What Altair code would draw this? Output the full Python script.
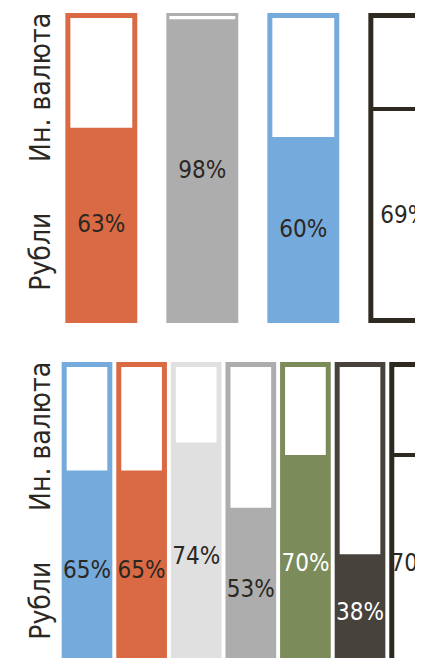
import altair as alt
import pandas as pd

# ---------------- data ----------------
top_values = [63, 98, 60, 69]                     # share in roubles, %
top_colors = ["#DA6A44", "#ADADAD", "#75AADD", "#2F2A21"]
top_outline = [False, False, False, True]
top_text_colors = ["#2B2723", "#2B2723", "#2B2723", "#2B2723"]

bot_values = [65, 65, 74, 53, 70, 38, 70]
bot_colors = ["#75AADD", "#DA6A44", "#E0E0E0", "#ADADAD", "#7B8B59", "#48423D", "#2F2A21"]
bot_outline = [False, False, False, False, False, False, True]
bot_text_colors = ["#2B2723", "#2B2723", "#2B2723", "#2B2723", "#FFFFFF", "#FFFFFF", "#2B2723"]

row_labels = ["Ин. валюта", "Рубли"]
row_label_pos = [76, 23]

# ---------------- style ----------------
top_insets = [5, 3, 5, 5]
bot_insets = [5, 5, 5, 5, 5, 5, 5]
LINE_HALF = 2
FONT = "DejaVu Sans Condensed"
PANEL_W = 407
TOP_H = 310
BOT_H = 296


def panel(values, colors, outline, tcolors, insets, xdomain, ydomain, hw, height):
    df = pd.DataFrame({
        "idx": list(range(len(values))),
        "rub": values,
        "color": colors,
        "outline": outline,
        "tcolor": tcolors,
        "inset": insets,
    })
    base = alt.Chart(df).transform_calculate(
        lo=f"datum.idx - {hw}",
        hi=f"datum.idx + {hw}",
        zero="0",
        full="100",
        mid="datum.rub / 2",
        label="toString(datum.rub) + '%'",
    )
    xs = alt.Scale(domain=xdomain, nice=False, zero=False)
    ys = alt.Scale(domain=ydomain, nice=False, zero=False)
    X = alt.X("lo:Q", scale=xs, axis=None)

    outer = base.mark_rect(clip=True).encode(
        x=X, x2="hi:Q",
        y=alt.Y("zero:Q", scale=ys, axis=None), y2="full:Q",
        fill=alt.Fill("color:N", scale=None),
    )
    layers = [outer]
    combos = sorted(set(zip(insets, outline)))
    for ins, outl in combos:
        sub = base.transform_filter(
            f"datum.inset == {ins} && datum.outline == {str(outl).lower()}"
        )
        layers.append(
            sub.mark_rect(
                clip=True, fill="white",
                xOffset=ins, x2Offset=-ins,
                yOffset=-LINE_HALF if outl else 0, y2Offset=ins,
            ).encode(
                x=X, x2="hi:Q",
                y=alt.Y("rub:Q", scale=ys, axis=None), y2="full:Q",
            )
        )
        if outl:
            layers.append(
                sub.mark_rect(
                    clip=True, fill="white",
                    xOffset=ins, x2Offset=-ins,
                    yOffset=-ins, y2Offset=LINE_HALF,
                ).encode(
                    x=X, x2="hi:Q",
                    y=alt.Y("zero:Q", scale=ys, axis=None), y2="rub:Q",
                )
            )
    text = base.mark_text(
        clip=True, font=FONT, fontSize=24, align="center", baseline="middle"
    ).encode(
        x=alt.X("idx:Q", scale=xs, axis=None),
        y=alt.Y("mid:Q", scale=ys, axis=None),
        text="label:N",
        color=alt.Color("tcolor:N", scale=None),
    )
    layers.append(text)

    rl = pd.DataFrame({"label": row_labels, "pos": row_label_pos})
    rows = alt.Chart(rl).mark_text(
        clip=True, font=FONT, fontSize=28, angle=270, align="center",
        baseline="middle", color="#2B2723",
    ).encode(
        x=alt.value(34),
        y=alt.Y("pos:Q", scale=ys, axis=None),
        text="label:N",
    )
    layers.append(rows)
    return alt.layer(*layers).properties(width=PANEL_W, height=height)


top = panel(top_values, top_colors, top_outline, top_text_colors, top_insets,
            [-0.924, 3.106], [0, 100], 0.356, TOP_H)
bottom = panel(bot_values, bot_colors, bot_outline, bot_text_colors, bot_insets,
               [-1.447, 6.007], [4.52, 100], 0.464, BOT_H)

chart = alt.vconcat(top, bottom, spacing=39).properties(
    padding={"left": 0, "top": 5, "right": 0, "bottom": 0},
).configure_view(stroke=None)

chart.save("out.html", embed_options={"renderer": "svg", "actions": False})
